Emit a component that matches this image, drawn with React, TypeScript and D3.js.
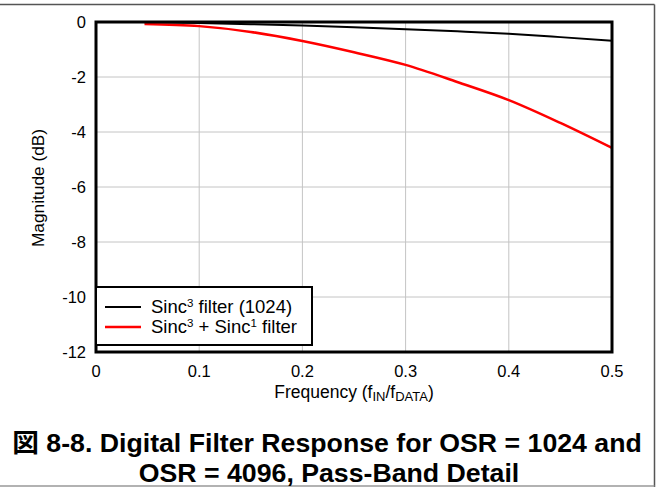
import React from "react";
import * as d3 from "d3";

const freq = [0.047, 0.1, 0.15, 0.2, 0.25, 0.3, 0.35, 0.4, 0.45, 0.5];
const sinc3 = [-0.01, -0.04, -0.08, -0.13, -0.19, -0.26, -0.34, -0.43, -0.55, -0.68];
const sinc3Sinc1 = [-0.07, -0.15, -0.36, -0.69, -1.1, -1.56, -2.18, -2.84, -3.67, -4.58];
const xTicks = [0, 0.1, 0.2, 0.3, 0.4, 0.5];
const yTicks = [0, -2, -4, -6, -8, -10, -12];

const W = 658;
const H = 487;
const FONT = "Liberation Sans, Arial, Helvetica, sans-serif";

export default function App() {
  const x = d3.scaleLinear().domain([0, 0.5]).range([96, 612]);
  const y = d3.scaleLinear().domain([0, -12]).range([22, 352]);
  const line = d3
    .line<number>()
    .x((_, i) => x(freq[i]))
    .y((d) => y(d))
    .curve(d3.curveMonotoneX);

  return (
    <svg
      width={W}
      height={H}
      style={{ position: "absolute", left: 0, top: 0, background: "#fff" }}
      fontFamily={FONT}
    >
      <rect x={0} y={0} width={W} height={H} fill="#fff" />
      {/* outer frame lines */}
      <line x1={0} x2={654.5} y1={4.5} y2={4.5} stroke="#555" strokeWidth={1.5} />
      <line x1={654.5} x2={654.5} y1={4.5} y2={H} stroke="#555" strokeWidth={1.5} />
      <line x1={0} x2={654.5} y1={486} y2={486} stroke="#999" strokeWidth={1.5} />

      {/* grid */}
      {xTicks.slice(1, -1).map((t) => (
        <line key={"gx" + t} x1={x(t)} x2={x(t)} y1={y(0)} y2={y(-12)} stroke="#c4c4c4" strokeWidth={1} />
      ))}
      {yTicks.slice(1, -1).map((t) => (
        <line key={"gy" + t} x1={x(0)} x2={x(0.5)} y1={y(t)} y2={y(t)} stroke="#c4c4c4" strokeWidth={1} />
      ))}

      {/* series */}
      <path d={line(sinc3) || ""} fill="none" stroke="#000" strokeWidth={2} />
      <path d={line(sinc3Sinc1) || ""} fill="none" stroke="#ff0000" strokeWidth={2.5} />

      {/* plot frame */}
      <rect x={x(0)} y={y(0)} width={x(0.5) - x(0)} height={y(-12) - y(0)} fill="none" stroke="#000" strokeWidth={3} />

      {/* y tick labels */}
      {yTicks.map((t) => (
        <text key={"ty" + t} x={86} y={y(t) + 6} textAnchor="end" fontSize={16.5} fill="#000">
          {t}
        </text>
      ))}
      {/* x tick labels */}
      {xTicks.map((t) => (
        <text key={"tx" + t} x={x(t)} y={377} textAnchor="middle" fontSize={16.5} fill="#000">
          {t === 0 ? "0" : t.toString()}
        </text>
      ))}

      {/* axis titles */}
      <text x={354} y={398} textAnchor="middle" fontSize={17.5} fill="#000">
        Frequency (f
        <tspan fontSize={13} dy={3}>IN</tspan>
        <tspan dy={-3}>/f</tspan>
        <tspan fontSize={13} dy={3}>DATA</tspan>
        <tspan dy={-3}>)</tspan>
      </text>
      <text transform={`translate(44,188) rotate(-90)`} textAnchor="middle" fontSize={17.3} fill="#000">
        Magnitude (dB)
      </text>

      {/* legend */}
      <rect x={96} y={287} width={216} height={58} fill="#fff" stroke="#000" strokeWidth={2} />
      <line x1={105} x2={141} y1={307} y2={307} stroke="#000" strokeWidth={2} />
      <line x1={105} x2={141} y1={327} y2={327} stroke="#ff0000" strokeWidth={2.5} />
      <text x={151} y={313} fontSize={18.5} fill="#000">
        Sinc<tspan fontSize={11.5} dy={-6.5}>3</tspan>
        <tspan dy={6.5}> filter (1024)</tspan>
      </text>
      <text x={151} y={333} fontSize={18.5} fill="#000">
        Sinc<tspan fontSize={11.5} dy={-6.5}>3</tspan>
        <tspan dy={6.5}> + Sinc</tspan>
        <tspan fontSize={11.5} dy={-6.5}>1</tspan>
        <tspan dy={6.5}> filter</tspan>
      </text>

      {/* caption */}
      <text x={327} y={452} textAnchor="middle" fontSize={26.7} fontWeight="bold" fill="#000">
        <tspan fontFamily="Noto Sans CJK JP, sans-serif">図</tspan> 8-8. Digital Filter Response for OSR = 1024 and
      </text>
      <text x={329} y={482} textAnchor="middle" fontSize={26.7} fontWeight="bold" fill="#000">
        OSR = 4096, Pass-Band Detail
      </text>
    </svg>
  );
}
